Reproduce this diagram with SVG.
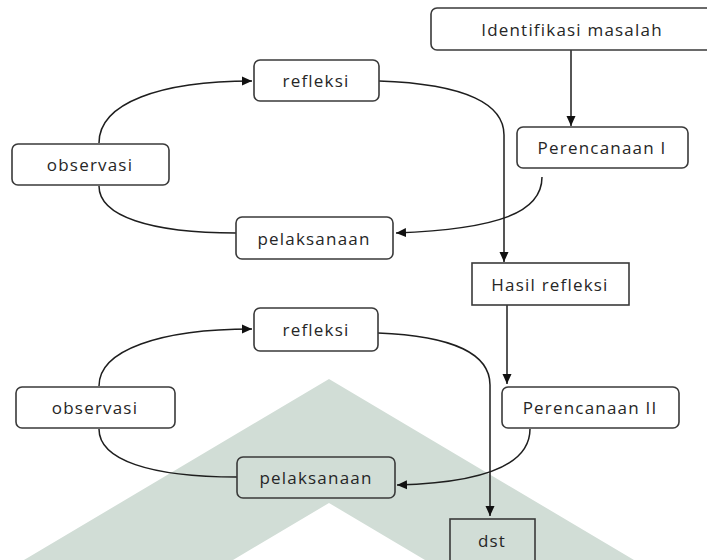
<svg xmlns="http://www.w3.org/2000/svg" width="707" height="560" viewBox="0 0 707 560">
<style>
.box{fill:none;stroke:#3a3a3a;stroke-width:1.6}
.lbl{font-family:"Open Sans","Noto Sans",sans-serif;font-size:17px;letter-spacing:1.2px;fill:#262626;text-anchor:middle;dominant-baseline:central}
.con{fill:none;stroke:#1e1e1e;stroke-width:1.5}
</style>
<defs>
<marker id="ah" markerWidth="11" markerHeight="11" refX="10" refY="5.5" orient="auto" markerUnits="userSpaceOnUse">
<path d="M0,1 L10,5.5 L0,10 Z" fill="#111"/>
</marker>
</defs>
<rect width="707" height="560" fill="#fff"/>
<polygon id="watermark" points="329,379 634,560 425,560 329,503 233,560 24,560" fill="#d1ddd6"/>

<g id="connectors">
<path class="con" d="M99,143 C99,103 160,81 252,81" marker-end="url(#ah)"/>
<path class="con" d="M99,186 C99,216 150,233 236,233"/>
<path class="con" d="M379,81 C468,84 504,105 504,135 L504,262" marker-end="url(#ah)"/>
<path class="con" d="M571,50 L571,126" marker-end="url(#ah)"/>
<path class="con" d="M542,177 C542,212 500,229 396,233" marker-end="url(#ah)"/>
<path class="con" d="M507,305 L507,384" marker-end="url(#ah)"/>
<path class="con" d="M99,386 C99,350 160,329 252,329" marker-end="url(#ah)"/>
<path class="con" d="M99,429 C99,460 150,477 237,477"/>
<path class="con" d="M378,333 C455,336 490,355 490,385 L490,516" marker-end="url(#ah)"/>
<path class="con" d="M530,429 C530,468 475,483 397,485" marker-end="url(#ah)"/>
</g>

<g id="identifikasi"><rect class="box" x="431" y="8" width="285" height="42" rx="6"/><text class="lbl" x="572" y="29">Identifikasi masalah</text></g>
<g id="refleksi1"><rect class="box" x="254" y="60" width="125" height="41" rx="6"/><text class="lbl" x="316" y="80">refleksi</text></g>
<g id="observasi1"><rect class="box" x="12" y="144" width="157" height="41" rx="6"/><text class="lbl" x="90" y="164">observasi</text></g>
<g id="perencanaan1"><rect class="box" x="517" y="127" width="171" height="41" rx="6"/><text class="lbl" x="602" y="147">Perencanaan I</text></g>
<g id="pelaksanaan1"><rect class="box" x="236" y="217" width="157" height="42" rx="6"/><text class="lbl" x="314" y="238">pelaksanaan</text></g>
<g id="hasil"><rect class="box" x="472" y="263" width="157" height="42"/><text class="lbl" x="550" y="284">Hasil refleksi</text></g>
<g id="refleksi2"><rect class="box" x="254" y="308" width="124" height="43" rx="6"/><text class="lbl" x="316" y="329">refleksi</text></g>
<g id="observasi2"><rect class="box" x="16" y="387" width="159" height="41" rx="6"/><text class="lbl" x="95" y="407">observasi</text></g>
<g id="perencanaan2"><rect class="box" x="502" y="387" width="177" height="41" rx="6"/><text class="lbl" x="590" y="407">Perencanaan II</text></g>
<g id="pelaksanaan2"><rect class="box" x="237" y="457" width="158" height="41" rx="6"/><text class="lbl" x="316" y="477">pelaksanaan</text></g>
<g id="dst"><rect class="box" x="450" y="519" width="85" height="45"/><text class="lbl" x="492" y="540">dst</text></g>
</svg>
